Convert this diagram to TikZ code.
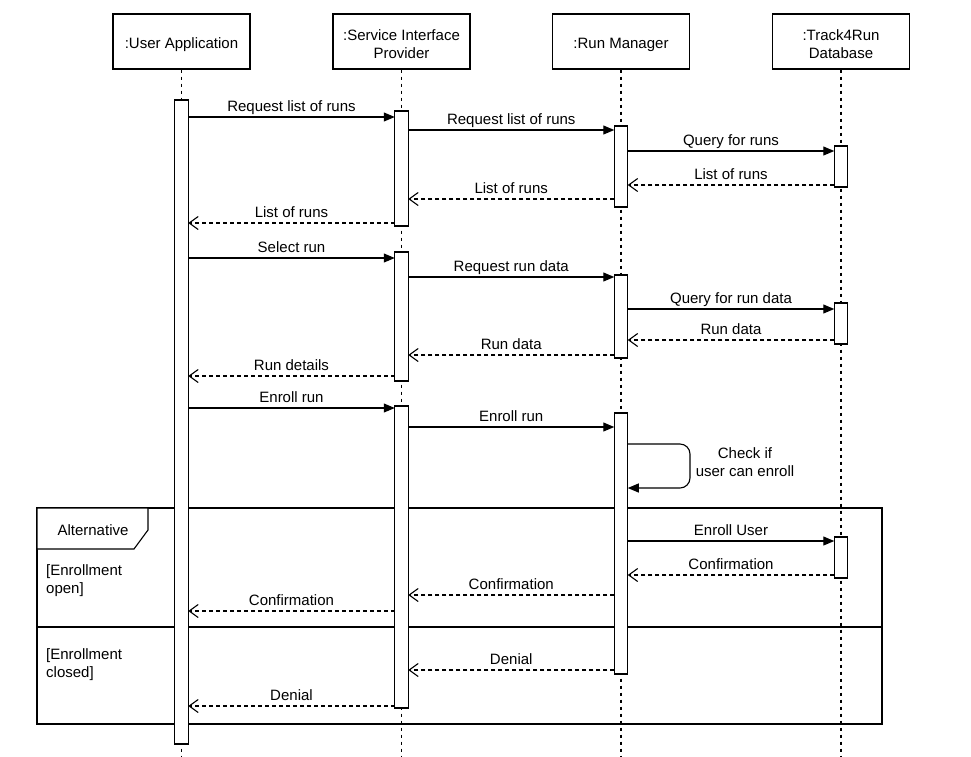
\documentclass[tikz,border=0pt]{standalone}
\usepackage{fontspec}
\setmainfont{Liberation Sans}
\usetikzlibrary{arrows.meta,calc}

\tikzset{
  base/.style={line width=1.1pt, draw=black},
  head/.style={base, fill=white, minimum width=137pt, minimum height=55pt, inner sep=0pt},
  lifeline/.style={line width=1.1pt, dash pattern=on 3.5pt off 3.5pt},
  act/.style={base, fill=white, minimum width=13.5pt, inner sep=0pt, outer sep=0pt},
  msg/.style={line width=1.1pt, -{Triangle[length=11pt,width=9pt]}},
  ret/.style={line width=1.1pt, dash pattern=on 4pt off 3pt,
    -{Straight Barb[length=9pt,width=13pt,line width=1.1pt]}},
  lbl/.style={above, inner sep=2pt, text height=11pt, text depth=3.3pt,
    font=\fontsize{15}{18}\selectfont},
  txt/.style={font=\fontsize{15}{18}\selectfont, inner sep=0pt},
  frame/.style={line width=1.1pt},
}

% activation bar: name, x, top y, bottom y
\newcommand{\actbar}[4]{%
  \node[act, minimum height={#4-#3}] (#1) at (#2,{(#3+#4)/2}) {};}

\begin{document}
\begin{tikzpicture}[x=1pt,y=-1pt]
\useasboundingbox (0,0) rectangle (971,756);

% participants
\node[head] (ua)  at (181.5,41.5) {};
\node[head] (sip) at (401.5,41.5) {};
\node[head] (rm)  at (621,41.5)   {};
\node[head] (db)  at (841,41.5)   {};
\node[txt, align=center] (ua-t)  at ($(ua)+(0,3)$)  {:User Application};
\node[txt, align=center] (sip-t) at ($(sip)+(0,2.5)$) {:Service Interface\\Provider};
\node[txt, align=center] (rm-t)  at ($(rm)+(0,3)$)  {:Run Manager};
\node[txt, align=center] (db-t)  at ($(db)+(0,2.5)$)  {:Track4Run\\Database};

% lifelines
\foreach \p in {ua,sip,rm,db}
  \draw[lifeline] (\p.south) -- (\p.south |- 0,756);

% combined fragment
\draw[frame] (37,508) rectangle (882,724);
\draw[frame] (37,627) -- (882,627);
\draw[frame, fill=white] (37,508) -- (148,508) -- (148,530) -- (134,549) -- (37,549) -- cycle;
\node[txt] (alt) at (93,530.5) {Alternative};
\node[txt, align=left, anchor=west] (g1) at (46,580.5) {[Enrollment\\open]};
\node[txt, align=left, anchor=west] (g2) at (46,665) {[Enrollment\\closed]};

% activation bars
\actbar{ua1}{181.5}{100}{744}
\actbar{sip1}{401.5}{111}{226}
\actbar{sip2}{401.5}{252}{381}
\actbar{sip3}{401.5}{406}{708}
\actbar{rm1}{621}{126}{207}
\actbar{rm2}{621}{275}{358}
\actbar{rm3}{621}{413}{674}
\actbar{db1}{841}{146}{187}
\actbar{db2}{841}{303}{344}
\actbar{db3}{841}{537}{578}

% list of runs
\draw[msg] (ua1.east |- 0,117) -- node[lbl] {Request list of runs} (sip1.west |- 0,117);
\draw[msg] (sip1.east |- 0,130) -- node[lbl] {Request list of runs} (rm1.west |- 0,130);
\draw[msg] (rm1.east |- 0,151) -- node[lbl] {Query for runs} (db1.west |- 0,151);
\draw[ret] (db1.west |- 0,185) -- node[lbl] {List of runs} (rm1.east |- 0,185);
\draw[ret] (rm1.west |- 0,199) -- node[lbl] {List of runs} (sip1.east |- 0,199);
\draw[ret] (sip1.west |- 0,223) -- node[lbl] {List of runs} (ua1.east |- 0,223);

% run data
\draw[msg] (ua1.east |- 0,258) -- node[lbl] {Select run} (sip2.west |- 0,258);
\draw[msg] (sip2.east |- 0,277) -- node[lbl] {Request run data} (rm2.west |- 0,277);
\draw[msg] (rm2.east |- 0,309) -- node[lbl] {Query for run data} (db2.west |- 0,309);
\draw[ret] (db2.west |- 0,340) -- node[lbl] {Run data} (rm2.east |- 0,340);
\draw[ret] (rm2.west |- 0,355) -- node[lbl] {Run data} (sip2.east |- 0,355);
\draw[ret] (sip2.west |- 0,376) -- node[lbl] {Run details} (ua1.east |- 0,376);

% enrollment
\draw[msg] (ua1.east |- 0,408) -- node[lbl] {Enroll run} (sip3.west |- 0,408);
\draw[msg] (sip3.east |- 0,427) -- node[lbl] {Enroll run} (rm3.west |- 0,427);
\draw[msg, rounded corners=10pt] (rm3.east |- 0,444) -- (690,444) -- (690,488) -- (rm3.east |- 0,488);
\node[txt, align=center] (chk) at (745,462) {Check if\\user can enroll};

% enrollment open
\draw[msg] (rm3.east |- 0,541) -- node[lbl] {Enroll User} (db3.west |- 0,541);
\draw[ret] (db3.west |- 0,575) -- node[lbl] {Confirmation} (rm3.east |- 0,575);
\draw[ret] (rm3.west |- 0,595) -- node[lbl] {Confirmation} (sip3.east |- 0,595);
\draw[ret] (sip3.west |- 0,611) -- node[lbl] {Confirmation} (ua1.east |- 0,611);

% enrollment closed
\draw[ret] (rm3.west |- 0,670) -- node[lbl] {Denial} (sip3.east |- 0,670);
\draw[ret] (sip3.west |- 0,706) -- node[lbl] {Denial} (ua1.east |- 0,706);
\end{tikzpicture}
\end{document}
